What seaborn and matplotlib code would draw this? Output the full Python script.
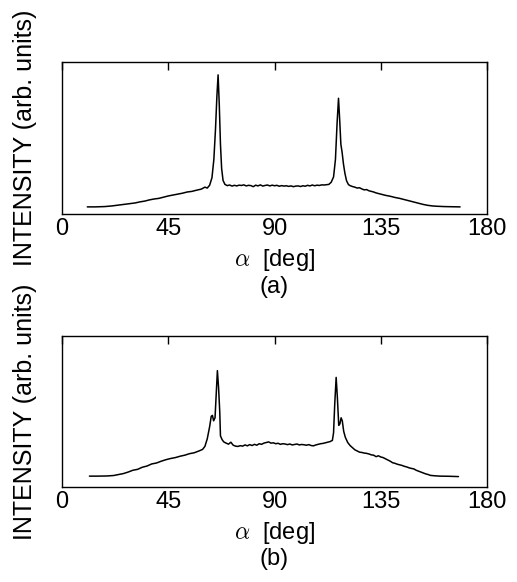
import numpy as np
import pandas as pd
import seaborn as sns
import matplotlib.pyplot as plt

# panel (a): intensity vs alpha (arb. units)
alpha_a = [10.7, 14, 18, 21, 24, 27, 29, 31, 33, 35, 37, 39, 41, 43, 45, 47, 49, 51, 53, 55,
           57, 59, 60.5, 61.5, 62.5, 63.5, 64.3, 65, 65.6, 66.1, 66.6, 67.1, 67.6, 68.2, 69,
           70, 71, 72, 73, 74, 75, 76, 77, 78, 79, 80, 81, 82, 83, 84, 85, 86, 87, 88, 89,
           90, 91, 92, 93, 94, 95, 96, 97, 98, 99, 100, 101, 102, 103, 104, 105, 106, 107,
           108, 109, 110, 111, 112, 113, 114, 115, 115.8, 116.5, 117.1, 117.6, 118.1, 118.6,
           119.2, 119.8, 120.5, 121.3, 122, 123, 124, 125, 126, 127, 128, 129, 130, 131, 132,
           133, 134, 135, 137, 139, 141, 143, 145, 147, 149, 151, 153, 155, 157, 159, 162,
           165, 168.6]
int_a = [0.048, 0.048, 0.050, 0.054, 0.060, 0.066, 0.070, 0.074, 0.081, 0.086, 0.094, 0.100,
         0.104, 0.112, 0.120, 0.126, 0.132, 0.138, 0.146, 0.150, 0.158, 0.165, 0.178, 0.172,
         0.190, 0.240, 0.360, 0.560, 0.780, 0.917, 0.720, 0.460, 0.300, 0.222, 0.196,
         0.188, 0.192, 0.185, 0.190, 0.186, 0.191, 0.189, 0.193, 0.186, 0.190, 0.188, 0.181,
         0.191, 0.186, 0.193, 0.185, 0.189, 0.192, 0.186, 0.191, 0.187, 0.190, 0.184, 0.188,
         0.185, 0.187, 0.183, 0.186, 0.181, 0.185, 0.186, 0.182, 0.187, 0.184, 0.190, 0.186,
         0.192, 0.187, 0.191, 0.189, 0.193, 0.192, 0.194, 0.196, 0.210, 0.245, 0.360, 0.600,
         0.763, 0.620, 0.460, 0.410, 0.330, 0.270, 0.220, 0.195, 0.188, 0.182, 0.178, 0.172,
         0.174, 0.166, 0.160, 0.162, 0.154, 0.150, 0.146, 0.140, 0.136, 0.132, 0.124, 0.118,
         0.110, 0.104, 0.096, 0.088, 0.080, 0.072, 0.064, 0.058, 0.054, 0.052, 0.050, 0.049,
         0.048]

# panel (b)
alpha_b = [11.6, 15, 19, 21.8, 24, 26, 28, 30, 32, 34, 36, 38, 40, 42, 44, 46, 48, 50, 52, 54,
           56, 58, 59.5, 60.5, 61.5, 62.5, 63.2, 63.7, 64.2, 64.8, 65.3, 65.8, 66.3, 66.8,
           67.1, 67.8, 68.5, 69.5, 70.5, 71.5, 72.5, 73.5, 74.5, 75.5, 76.5, 77.5, 78.5, 79.5,
           80.5, 81.5, 82.5, 83.5, 84.5, 85.5, 86.5, 87.5, 88.5, 89.5, 90.5, 91.5, 92.5, 93.5,
           94.5, 95.5, 96.5, 97.5, 98.5, 99.5, 100.5, 101.5, 102.5, 103.5, 104.5, 105.5, 106.5,
           107.5, 108.5, 109.5, 110.5, 111.5, 112.5, 113.5, 114.5, 115.0, 115.5, 116.1, 116.6,
           117.2, 117.7, 118.2, 118.7, 119.3, 120, 121, 122, 123, 124, 125, 126, 127, 128, 129,
           130, 131, 132, 133, 134, 135, 136, 137, 138, 139, 140, 141, 142, 143, 144, 145, 146,
           147, 148, 149, 150, 151, 152, 153, 154, 155, 156, 158, 160.2, 164, 167.9]
int_b = [0.073, 0.073, 0.074, 0.077, 0.084, 0.090, 0.100, 0.112, 0.118, 0.132, 0.140, 0.154,
         0.160, 0.172, 0.182, 0.190, 0.196, 0.205, 0.212, 0.222, 0.228, 0.240, 0.250, 0.270,
         0.320, 0.400, 0.470, 0.476, 0.440, 0.460, 0.620, 0.773, 0.660, 0.500, 0.340, 0.315,
         0.300, 0.292, 0.285, 0.298, 0.278, 0.272, 0.270, 0.275, 0.272, 0.280, 0.274, 0.282,
         0.276, 0.284, 0.278, 0.288, 0.284, 0.292, 0.296, 0.300, 0.292, 0.294, 0.288, 0.291,
         0.284, 0.288, 0.286, 0.282, 0.286, 0.280, 0.283, 0.286, 0.280, 0.283, 0.281, 0.278,
         0.282, 0.276, 0.274, 0.280, 0.284, 0.288, 0.290, 0.294, 0.298, 0.302, 0.310, 0.360,
         0.550, 0.728, 0.600, 0.410, 0.420, 0.460, 0.440, 0.370, 0.330, 0.296, 0.276, 0.262,
         0.248, 0.240, 0.232, 0.230, 0.226, 0.224, 0.220, 0.214, 0.212, 0.202, 0.208, 0.200,
         0.196, 0.188, 0.180, 0.172, 0.162, 0.158, 0.152, 0.148, 0.144, 0.138, 0.134, 0.128,
         0.124, 0.121, 0.112, 0.106, 0.100, 0.094, 0.088, 0.084, 0.078, 0.075, 0.073, 0.072,
         0.070]

ticks = [0, 45, 90, 135, 180]
panels = ["(a)", "(b)"]

sns.set_style("white")
plt.rcParams["font.family"] = ["Liberation Sans", "DejaVu Sans"]
plt.rcParams["mathtext.fontset"] = "cm"
plt.rcParams["text.color"] = "black"
plt.rcParams["axes.labelcolor"] = "black"
plt.rcParams["xtick.color"] = "black"

fig = plt.figure(figsize=(5.17, 5.82), dpi=100)
ax_a = fig.add_axes([0.12, 0.632, 0.822, 0.261])
ax_b = fig.add_axes([0.12, 0.163, 0.822, 0.259])

data = [(alpha_a, int_a), (alpha_b, int_b)]
for ax, (x, y), tag in zip([ax_a, ax_b], data, panels):
    df = pd.DataFrame({"alpha": x, "intensity": y})
    sns.lineplot(data=df, x="alpha", y="intensity", ax=ax, color="black",
                 linewidth=1.1, sort=False)
    ax.set_xlim(0, 180)
    ax.set_ylim(0, 1)
    ax.set_xticks(ticks)
    ax.set_xticklabels([str(t) for t in ticks], fontsize=17, color="black")
    ax.set_yticks([])
    ax.tick_params(axis="x", direction="in", top=True, length=6, width=1,
                   color="black", pad=3)
    for s in ax.spines.values():
        s.set_color("black")
        s.set_linewidth(1.0)
    ax.set_xlabel(r"$\alpha$  [deg]", fontsize=17, labelpad=5, color="black")
    ax.set_ylabel("INTENSITY (arb. units)", fontsize=18, labelpad=18, color="black")
    ax.text(0.5, -0.48, tag, transform=ax.transAxes, ha="center", va="center",
            fontsize=17, color="black")

plt.savefig("out.png", dpi=100)
